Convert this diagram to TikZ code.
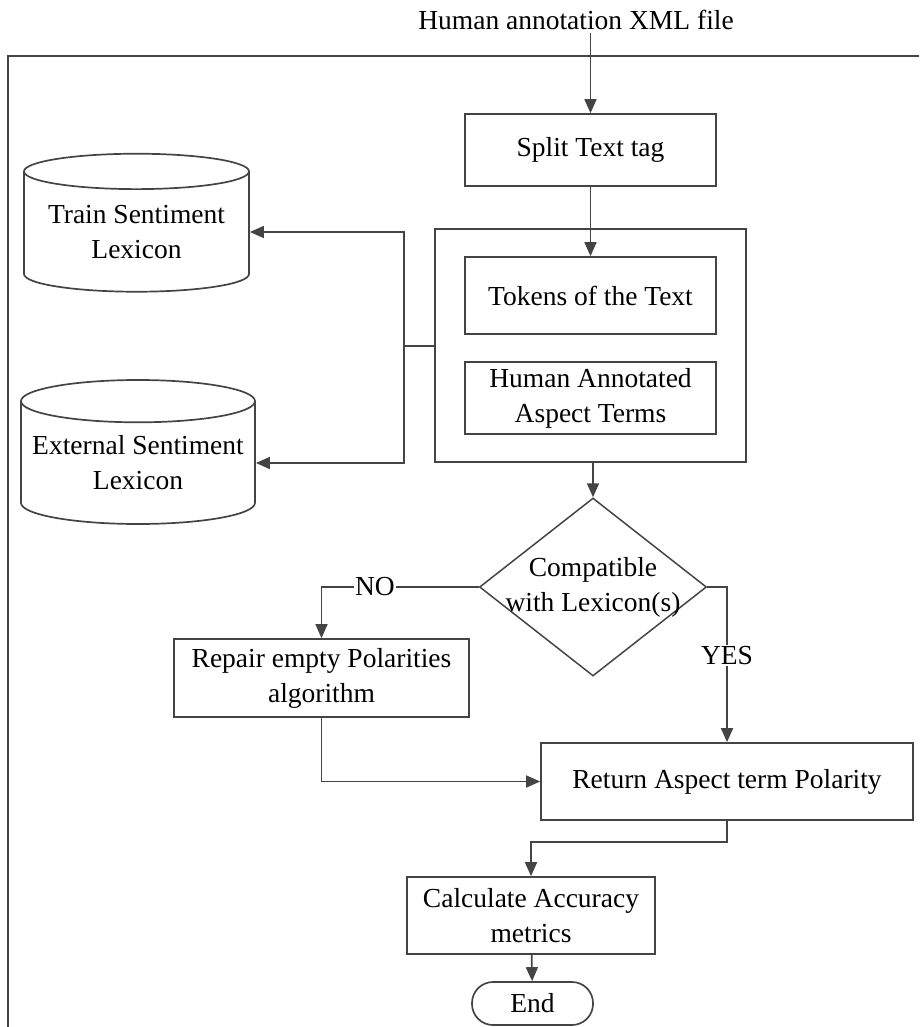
\documentclass[tikz,border=0pt]{standalone}
\usepackage{fontspec}
\setmainfont{Liberation Serif}
\usetikzlibrary{arrows.meta,positioning,shapes.geometric,fit,calc}
\definecolor{linegray}{RGB}{68,68,68}

\begin{document}
\begin{tikzpicture}[x=1pt, y=-1pt, every node/.style={font=\fontsize{27.5}{35}\selectfont}]
\tikzset{box/.style={draw=linegray, line width=1.7pt, align=center, inner sep=0pt}}
\tikzset{lexicon/.style={draw=linegray, line width=1.7pt, cylinder, shape border rotate=90, aspect=0.2, align=center, inner sep=0pt}}
\tikzset{decision/.style={draw=linegray, line width=1.5pt, diamond, inner sep=0pt}}
\tikzset{link/.style={draw=linegray, line width=1.7pt}}
\tikzset{arrow/.style={-{Triangle[length=14pt, width=12pt]}, draw=linegray, line width=1.7pt}}
\useasboundingbox (0,0) rectangle (919,1027);
% outer frame
\draw[link] (8,1027) -- (8,56) -- (919,56);
\node (title) at (576,20) {Human annotation XML file};
\node[box, minimum width=251pt, minimum height=72pt] (split) at (590.5,150) {Split Text tag};
\node[box, minimum width=251pt, minimum height=77pt] (tokens) at (590.5,295.5) {Tokens of the Text};
\node[box, minimum width=251pt, minimum height=72pt] (human) at (590.5,398) {Human Annotated\\Aspect Terms};
\node[link, fit=(tokens)(human), inner xsep=29pt, inner ysep=27pt] (cont) {};
\node[lexicon, minimum width=225pt, minimum height=138pt] (train) at (136.5,232) {Train Sentiment\\Lexicon};
\node[lexicon, minimum width=234pt, minimum height=144pt] (ext) at (138,463) {External Sentiment\\Lexicon};
\node[decision, minimum width=227pt, minimum height=178pt] (dec) at (593,587) {};
\node[align=center] (dectext) at (dec.center) {Compatible\\with Lexicon(s)};
\node[box, minimum width=295pt, minimum height=78pt] (repair) at (321.5,678) {Repair empty Polarities\\algorithm};
\node[box, minimum width=372pt, minimum height=77pt] (ret) at (727,781.5) {Return Aspect term Polarity};
\node[box, minimum width=248pt, minimum height=77pt] (calc) at (531,915.5) {Calculate Accuracy\\metrics};
\node[box, rounded corners=21pt, minimum width=121pt, minimum height=43pt] (stop) at (532.5,1003.5) {End};
% connectors
\draw[arrow] (title.south -| split.north) -- (split.north);
\draw[arrow] (split) -- (tokens);
\draw[arrow] (dec.north |- cont.south) -- (dec.north);
\coordinate (fork) at (404,346);
\draw[link] (cont.west |- fork) -- (fork);
\draw[arrow] (fork) |- (train.east);
\draw[arrow] (fork) |- (ext.east);
\draw[arrow] (dec.west) -| node[pos=0.33, fill=white, inner sep=1pt] {NO} (repair.north);
\draw[arrow] (dec.east) -| node[pos=0.72, fill=white, inner sep=1pt] {YES} (ret.north);
\draw[arrow] (repair.south) |- (ret.west);
\draw[arrow] (ret.south) -- ++(0,21) -| (calc.north);
\draw[arrow] (calc) -- (stop);
\end{tikzpicture}
\end{document}
